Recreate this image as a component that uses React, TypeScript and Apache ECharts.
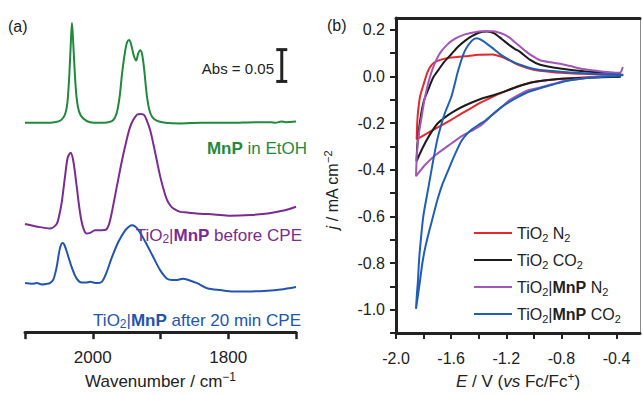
import React, { useEffect, useRef } from "react";
import * as echarts from "echarts";

const FONT = '"Liberation Sans", Arial, Helvetica, sans-serif';
const INK = "#222";

// ---------- Panel (a): IR spectra, [wavenumber (cm-1), absorbance incl. stacking offset] ----------
const mnpEtohSpectrum = [
  [2100, 0.329], [2071, 0.329], [2056, 0.33], [2047, 0.333], [2041, 0.342], [2037.3, 0.362],
  [2034.4, 0.408], [2032.1, 0.461], [2030.7, 0.486], [2029.1, 0.461], [2026.9, 0.415], [2024, 0.37],
  [2020.3, 0.347], [2014.4, 0.336], [2004, 0.33], [1989, 0.329], [1977, 0.33], [1970, 0.333],
  [1964.7, 0.344], [1960.3, 0.37], [1956.6, 0.408], [1952.1, 0.442], [1949.2, 0.456], [1946.2, 0.459],
  [1943.3, 0.452], [1939.5, 0.435], [1935.9, 0.427], [1932.9, 0.438], [1929.9, 0.443], [1927, 0.436],
  [1924, 0.412], [1920.3, 0.373], [1916.6, 0.35], [1912.1, 0.338], [1904.7, 0.332], [1893, 0.329],
  [1871, 0.328], [1841, 0.329], [1797, 0.329], [1760, 0.33], [1737, 0.33], [1730, 0.329],
  [1722, 0.331], [1715, 0.33], [1700, 0.331],
];
const beforeCpeSpectrum = [
  [2100, 0.17], [2078, 0.165], [2063, 0.163], [2053.3, 0.17], [2049.2, 0.185], [2045.9, 0.203],
  [2041, 0.244], [2037, 0.274], [2032.6, 0.282], [2028.7, 0.269], [2023.7, 0.229], [2018.8, 0.188],
  [2014.4, 0.165], [2009.2, 0.155], [2004, 0.156], [1996.6, 0.16], [1986.7, 0.16], [1980.3, 0.161],
  [1975.9, 0.17], [1971.9, 0.188], [1964.4, 0.229], [1957, 0.269], [1949.6, 0.304], [1944.7, 0.323],
  [1939.9, 0.334], [1934.4, 0.342], [1928.9, 0.343], [1924, 0.341], [1920, 0.332], [1915.1, 0.317],
  [1910.2, 0.294], [1905.5, 0.27], [1900.3, 0.244], [1895.1, 0.223], [1890.4, 0.208], [1885.5, 0.199],
  [1880.6, 0.194], [1870.7, 0.189], [1860.7, 0.188], [1841, 0.186], [1821, 0.185], [1797, 0.183],
  [1767, 0.184], [1745, 0.186], [1733, 0.188], [1715, 0.192], [1700, 0.197],
];
const afterCpeSpectrum = [
  [2100, 0.077], [2090, 0.076], [2082.5, 0.077], [2075, 0.075], [2067.7, 0.076], [2063.3, 0.077],
  [2058.4, 0.082], [2053.3, 0.102], [2048.4, 0.132], [2044.4, 0.14], [2041.8, 0.137], [2038.5, 0.127],
  [2031.1, 0.102], [2023.7, 0.084], [2016.3, 0.078], [2009.9, 0.078], [2004, 0.079], [1994.1, 0.077],
  [1986.7, 0.079], [1980.3, 0.092], [1971.9, 0.117], [1962.1, 0.142], [1952.1, 0.16], [1946.2, 0.166],
  [1942.2, 0.168], [1937.3, 0.166], [1932.4, 0.16], [1922.5, 0.142], [1910.2, 0.117], [1900.3, 0.097],
  [1890.4, 0.084], [1883, 0.082], [1875.6, 0.082], [1866.7, 0.084], [1858.8, 0.082], [1845.9, 0.077],
  [1831.1, 0.069], [1811.4, 0.066], [1792.2, 0.064], [1767, 0.064], [1742.2, 0.065], [1722.5, 0.067],
  [1700, 0.071],
];
// scale bar: [wavenumber, bottom absorbance, length]
const absScaleBar = [[1721, 0.394, 0.05]];
const wavenumberTicks = [1700, 1800, 1900, 2000, 2100];
const wavenumberLabels = [1800, 2000];

// ---------- Panel (b): cyclic voltammograms, [E (V vs Fc/Fc+), j (mA cm-2)] ----------
const tio2N2Cathodic = [
  [-0.37, 0.0], [-0.6, -0.004], [-0.85, -0.013], [-1.0, -0.024], [-1.1, -0.04], [-1.24, -0.072],
  [-1.39, -0.114], [-1.44, -0.131], [-1.52, -0.158], [-1.6, -0.186], [-1.69, -0.216], [-1.75, -0.236],
  [-1.85, -0.27],
];
const tio2N2Anodic = [
  [-1.846, -0.2], [-1.84, -0.15], [-1.825, -0.085], [-1.8, -0.035], [-1.77, 0.02], [-1.74, 0.05],
  [-1.7, 0.066], [-1.63, 0.078], [-1.5, 0.086], [-1.4, 0.093], [-1.3, 0.094], [-1.23, 0.083],
  [-1.17, 0.066], [-1.1, 0.046], [-1.0, 0.028], [-0.86, 0.018], [-0.61, 0.01], [-0.37, 0.004],
];
const tio2Co2Cathodic = [
  [-0.37, -0.002], [-0.61, -0.006], [-0.86, -0.013], [-1.0, -0.024], [-1.1, -0.04], [-1.2, -0.062],
  [-1.3, -0.082], [-1.4, -0.1], [-1.5, -0.125], [-1.58, -0.15], [-1.65, -0.178], [-1.7, -0.203],
  [-1.76, -0.255], [-1.81, -0.31], [-1.851, -0.364],
];
const tio2Co2Anodic = [
  [-1.845, -0.29], [-1.826, -0.194], [-1.8, -0.11], [-1.765, -0.055], [-1.73, -0.005], [-1.693, 0.027],
  [-1.65, 0.062], [-1.596, 0.097], [-1.55, 0.127], [-1.5, 0.152], [-1.45, 0.172], [-1.4, 0.187],
  [-1.34, 0.192], [-1.29, 0.185], [-1.233, 0.16], [-1.18, 0.135], [-1.136, 0.117], [-1.1, 0.105],
  [-1.03, 0.072], [-0.955, 0.05], [-0.81, 0.034], [-0.62, 0.021], [-0.4, 0.014], [-0.37, 0.012],
];
const mnpN2Cathodic = [
  [-0.355, 0.04], [-0.365, 0.022], [-0.385, 0.012], [-0.45, 0.006], [-0.62, -0.007], [-0.79, -0.021],
  [-0.86, -0.033], [-0.955, -0.048], [-1.05, -0.062], [-1.1, -0.076], [-1.17, -0.1], [-1.233, -0.131],
  [-1.3, -0.165], [-1.378, -0.207], [-1.45, -0.233], [-1.523, -0.256], [-1.62, -0.297], [-1.717, -0.339],
  [-1.79, -0.38], [-1.855, -0.428],
];
const mnpN2Anodic = [
  [-1.848, -0.33], [-1.835, -0.25], [-1.813, -0.17], [-1.795, -0.105], [-1.777, -0.055], [-1.755, -0.005],
  [-1.729, 0.041], [-1.7, 0.08], [-1.668, 0.11], [-1.63, 0.135], [-1.596, 0.152], [-1.55, 0.168],
  [-1.5, 0.18], [-1.44, 0.188], [-1.378, 0.193], [-1.3, 0.193], [-1.25, 0.187], [-1.209, 0.178],
  [-1.17, 0.163], [-1.136, 0.145], [-1.1, 0.128], [-1.06, 0.108], [-1.028, 0.094], [-0.99, 0.08],
  [-0.955, 0.069], [-0.88, 0.06], [-0.81, 0.054], [-0.735, 0.044], [-0.665, 0.034], [-0.58, 0.026],
  [-0.496, 0.02], [-0.43, 0.016], [-0.37, 0.015],
];
const mnpCo2Cathodic = [
  [-0.35, 0.006], [-0.4, 0.002], [-0.616, -0.007], [-0.75, -0.018], [-0.86, -0.035], [-0.95, -0.05],
  [-1.05, -0.069], [-1.15, -0.1], [-1.233, -0.131], [-1.3, -0.163], [-1.354, -0.19], [-1.4, -0.207],
  [-1.451, -0.228], [-1.49, -0.25], [-1.523, -0.275], [-1.56, -0.318], [-1.596, -0.366], [-1.63, -0.415],
  [-1.668, -0.47], [-1.7, -0.53], [-1.729, -0.595], [-1.76, -0.665], [-1.79, -0.739], [-1.81, -0.805],
  [-1.826, -0.877], [-1.84, -0.935], [-1.855, -0.996],
];
const mnpCo2Anodic = [
  [-1.848, -0.93], [-1.841, -0.877], [-1.834, -0.8], [-1.826, -0.739], [-1.802, -0.6], [-1.766, -0.48],
  [-1.73, -0.36], [-1.7, -0.27], [-1.668, -0.2], [-1.644, -0.155], [-1.596, -0.083], [-1.548, 0.027],
  [-1.5, 0.11], [-1.451, 0.152], [-1.415, 0.163], [-1.37, 0.152], [-1.306, 0.124], [-1.233, 0.09],
  [-1.136, 0.058], [-1.1, 0.05], [-1.03, 0.036], [-0.955, 0.027], [-0.737, 0.017], [-0.496, 0.01],
  [-0.35, 0.007],
];
const potentialTicks = [-2.0, -1.8, -1.6, -1.4, -1.2, -1.0, -0.8, -0.6, -0.4];
const potentialLabels = [-2.0, -1.6, -1.2, -0.8, -0.4];
const currentTicks = [-1.1, -1.0, -0.9, -0.8, -0.7, -0.6, -0.5, -0.4, -0.3, -0.2, -0.1, 0.0, 0.1, 0.2];
const currentLabels = [-1.0, -0.8, -0.6, -0.4, -0.2, 0.0, 0.2];

const cvNames = ["TiO2 N2", "TiO2 CO2", "TiO2|MnP N2", "TiO2|MnP CO2"];
const cvRich = [
  "TiO{sub|2} N{sub|2}",
  "TiO{sub|2} CO{sub|2}",
  "TiO{sub|2}|{b|MnP} N{sub|2}",
  "TiO{sub|2}|{b|MnP} CO{sub|2}",
];
const cvColors = ["#e8262b", "#1c1c1c", "#a257b8", "#1f5fb8"];

// ECharts-level rich styles
const richE = (color: string, size = 16) => ({
  sub: { fontSize: Math.round(size * 0.7), fontFamily: FONT, color, verticalAlign: "bottom", lineHeight: 12 },
  sup: { fontSize: Math.round(size * 0.7), fontFamily: FONT, color, verticalAlign: "top", lineHeight: 12 },
  b: { fontSize: size, fontFamily: FONT, color, fontWeight: "bold", lineHeight: 20 },
  i: { fontSize: size, fontFamily: FONT, color, fontStyle: "italic", lineHeight: 20 },
});
// zrender-level rich styles (graphic component)
const richZ = (fill: string, size = 16) => ({
  sub: { fontSize: Math.round(size * 0.7), fontFamily: FONT, fill, verticalAlign: "bottom", lineHeight: 12 },
  sup: { fontSize: Math.round(size * 0.7), fontFamily: FONT, fill, verticalAlign: "top", lineHeight: 12 },
  b: { fontSize: size, fontFamily: FONT, fill, fontWeight: "bold", lineHeight: 20 },
  i: { fontSize: size, fontFamily: FONT, fill, fontStyle: "italic", lineHeight: 20 },
});

const labelText = (text: string, x: number, y: number, fill: string, align = "right", size = 17) => ({
  type: "text",
  x,
  y,
  style: {
    text,
    align,
    verticalAlign: "middle",
    fontSize: size,
    fontFamily: FONT,
    fill,
    lineHeight: 20,
    rich: richZ(fill, size),
  },
});

export default function App() {
  const ref = useRef<HTMLDivElement>(null);
  useEffect(() => {
    const chart = echarts.init(ref.current!, null, { renderer: "svg" });

    const labelA = { fontSize: 17, fontFamily: FONT, color: INK };
    const labelB = { fontSize: 16, fontFamily: FONT, color: INK };
    const cvData = [
      [...tio2N2Cathodic, ...tio2N2Anodic],
      [...tio2Co2Cathodic, ...tio2Co2Anodic],
      [...mnpN2Cathodic, ...mnpN2Anodic],
      [...mnpCo2Cathodic, ...mnpCo2Anodic],
    ];

    const option: any = {
      animation: false,
      backgroundColor: "#fff",
      grid: [
        { left: 25, top: 14, width: 271, height: 330 },
        { left: 396, top: 18, width: 244, height: 325 },
      ],
      xAxis: [
        {
          type: "value",
          gridIndex: 0,
          min: 1700,
          max: 2100,
          inverse: true,
          axisLine: { show: true, lineStyle: { color: INK, width: 3 } },
          axisTick: { show: true, customValues: wavenumberTicks, length: 7, lineStyle: { color: INK, width: 2.5 } },
          axisLabel: { customValues: wavenumberLabels, margin: 17, formatter: (v: number) => String(v), ...labelA },
          splitLine: { show: false },
          name: "Wavenumber / cm{sup|−1}",
          nameLocation: "middle",
          nameGap: 38,
          nameTextStyle: { ...labelA, lineHeight: 20, rich: richE(INK, 17) },
        },
        {
          type: "value",
          gridIndex: 1,
          min: -2.0,
          max: -0.23,
          axisLine: { show: true, onZero: false, lineStyle: { color: INK, width: 3 } },
          axisTick: { show: true, customValues: potentialTicks, length: 6, lineStyle: { color: INK, width: 2 } },
          axisLabel: {
            customValues: potentialLabels,
            margin: 17,
            formatter: (v: number) => Number(v).toFixed(1),
            ...labelB,
          },
          splitLine: { show: false },
          name: "{i|E} / V ({i|vs} Fc/Fc{sup|+})",
          nameLocation: "middle",
          nameGap: 36,
          nameTextStyle: { ...labelA, lineHeight: 20, rich: richE(INK, 17) },
        },
        {
          type: "value",
          gridIndex: 1,
          position: "top",
          min: -2.0,
          max: -0.23,
          axisLine: { show: true, onZero: false, lineStyle: { color: INK, width: 3 } },
          axisTick: { show: false },
          axisLabel: { show: false },
          splitLine: { show: false },
        },
      ],
      yAxis: [
        { type: "value", gridIndex: 0, min: 0, max: 0.5, show: false, splitLine: { show: false } },
        {
          type: "value",
          gridIndex: 1,
          min: -1.1,
          max: 0.25,
          axisLine: { show: true, onZero: false, lineStyle: { color: INK, width: 3 } },
          axisTick: { show: true, customValues: currentTicks, length: 6, lineStyle: { color: INK, width: 2 } },
          axisLabel: {
            customValues: currentLabels,
            margin: 11,
            formatter: (v: number) => Number(v).toFixed(1),
            ...labelB,
          },
          splitLine: { show: false },
        },
        {
          type: "value",
          gridIndex: 1,
          position: "right",
          min: -1.1,
          max: 0.25,
          axisLine: { show: true, onZero: false, lineStyle: { color: "#8a8a8a", width: 1 } },
          axisTick: { show: false },
          axisLabel: { show: false },
          splitLine: { show: false },
        },
      ],
      legend: {
        data: cvNames,
        orient: "vertical",
        left: 469,
        top: 218,
        icon: "rect",
        itemWidth: 38,
        itemHeight: 2,
        itemGap: 7,
        formatter: (name: string) => cvRich[cvNames.indexOf(name)],
        textStyle: { fontSize: 16, fontFamily: FONT, color: INK, lineHeight: 20, rich: richE(INK, 16) },
        selectedMode: false,
      },
      series: [
        {
          type: "line",
          name: "MnP in EtOH",
          xAxisIndex: 0,
          yAxisIndex: 0,
          data: mnpEtohSpectrum,
          symbol: "none",
          smooth: 0.3,
          lineStyle: { color: "#1f8a3c", width: 2 },
        },
        {
          type: "line",
          name: "before CPE",
          xAxisIndex: 0,
          yAxisIndex: 0,
          data: beforeCpeSpectrum,
          symbol: "none",
          smooth: 0.3,
          lineStyle: { color: "#7b2b92", width: 2 },
        },
        {
          type: "line",
          name: "after CPE",
          xAxisIndex: 0,
          yAxisIndex: 0,
          data: afterCpeSpectrum,
          symbol: "none",
          smooth: 0.3,
          lineStyle: { color: "#2254b0", width: 2 },
        },
        {
          type: "custom",
          name: "scale",
          xAxisIndex: 0,
          yAxisIndex: 0,
          data: absScaleBar,
          encode: { x: 0, y: 1 },
          clip: false,
          renderItem: (_p: any, api: any) => {
            const b = api.coord([api.value(0), api.value(1)]);
            const t = api.coord([api.value(0), api.value(1) + api.value(2)]);
            const w = 5.5;
            const style = { stroke: INK, lineWidth: 3 };
            return {
              type: "group",
              children: [
                { type: "line", shape: { x1: b[0], y1: b[1], x2: t[0], y2: t[1] }, style },
                { type: "line", shape: { x1: b[0] - w, y1: b[1], x2: b[0] + w, y2: b[1] }, style },
                { type: "line", shape: { x1: t[0] - w, y1: t[1], x2: t[0] + w, y2: t[1] }, style },
              ],
            };
          },
        },
        ...cvNames.map((name, i) => ({
          type: "line",
          name,
          xAxisIndex: 1,
          yAxisIndex: 1,
          data: cvData[i],
          symbol: "none",
          smooth: 0.25,
          color: cvColors[i],
          lineStyle: { color: cvColors[i], width: 2 },
          z: 2 + (i === 3 ? 1 : 0),
        })),
      ],
      graphic: [
        labelText("(a)", 8, 26, INK, "left", 16),
        labelText("(b)", 327, 25, INK, "left", 16),
        labelText("Abs = 0.05", 274, 68, INK, "right", 15),
        labelText("{b|MnP} in EtOH", 307, 148, "#1f8a3c"),
        labelText("TiO{sub|2}|{b|MnP} before CPE", 302, 235, "#7b2b92"),
        labelText("TiO{sub|2}|{b|MnP} after 20 min CPE", 301, 320, "#2254b0"),
        {
          type: "text",
          x: 332,
          y: 190,
          rotation: Math.PI / 2,
          style: {
            text: "{i|j} / mA cm{sup|−2}",
            align: "center",
            verticalAlign: "middle",
            fontSize: 16,
            fontFamily: FONT,
            fill: INK,
            lineHeight: 20,
            rich: richZ(INK, 16),
          },
        },
      ],
    };

    chart.setOption(option);
    return () => chart.dispose();
  }, []);

  return (
    <div
      ref={ref}
      style={{ position: "absolute", left: 0, top: 0, width: 643, height: 396 }}
    />
  );
}
